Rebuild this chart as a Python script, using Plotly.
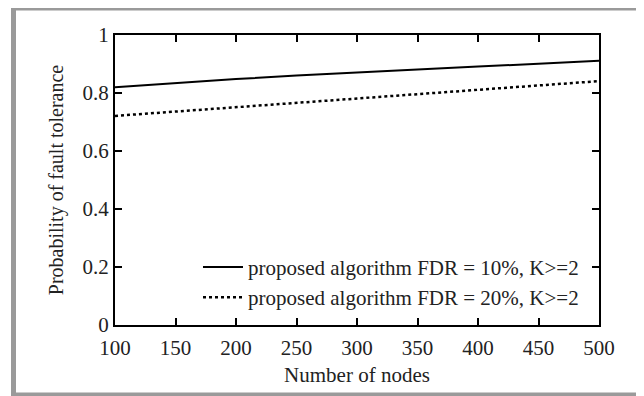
import plotly.graph_objects as go

nodes = [100, 150, 200, 250, 300, 350, 400, 450, 500]
fdr10 = [0.820, 0.835, 0.848, 0.860, 0.871, 0.881, 0.891, 0.901, 0.911]
fdr20 = [0.721, 0.736, 0.751, 0.766, 0.781, 0.796, 0.811, 0.826, 0.841]
names = ["proposed algorithm FDR = 10%, K>=2", "proposed algorithm FDR = 20%, K>=2"]
x_ticks = [100, 150, 200, 250, 300, 350, 400, 450, 500]
y_ticks = [0, 0.2, 0.4, 0.6, 0.8, 1]
y_labels = ["0", "0.2", "0.4", "0.6", "0.8", "1"]

font = "Liberation Serif"
txt = "#222"

# figure is placed by the page at (8, 8); sizes compensate for that offset
W, H = 636, 388
L, R, T, B = 107, 45, 27, 71
PW, PH = W - L - R, H - T - B

fig = go.Figure()
fig.add_trace(go.Scatter(x=nodes, y=fdr10, mode="lines", name=names[0],
                         line=dict(color="black", width=2, dash="solid")))
fig.add_trace(go.Scatter(x=nodes, y=fdr20, mode="lines", name=names[1],
                         line=dict(color="black", width=2.5, dash="dot")))

axis_common = dict(showline=True, linecolor="black", linewidth=2, mirror="ticks",
                   ticks="inside", ticklen=7, tickwidth=1.5, tickcolor="black",
                   showgrid=False, zeroline=False,
                   tickfont=dict(family=font, size=21, color=txt))

fig.update_xaxes(range=[100, 500], tickvals=x_ticks, ticklabelstandoff=3,
                 title=dict(text="Number of nodes", font=dict(family=font, size=21, color=txt), standoff=8),
                 **axis_common)
fig.update_yaxes(range=[0, 1], tickvals=y_ticks, ticktext=y_labels,
                 title=dict(text="Probability of fault tolerance", font=dict(family=font, size=20, color=txt), standoff=14),
                 **axis_common)

fig.update_layout(
    width=W, height=H,
    margin=dict(l=L, r=R, t=T, b=B),
    paper_bgcolor="white", plot_bgcolor="white",
    showlegend=True,
    legend=dict(x=0.969, y=0.025, xanchor="right", yanchor="bottom",
                bgcolor="rgba(0,0,0,0)", font=dict(family=font, size=21, color=txt),
                tracegroupgap=0, itemwidth=40),
    shapes=[dict(type="rect", xref="paper", yref="paper",
                 x0=(5.5 - L) / PW, x1=(635 - L) / PW,
                 y0=(H - B - 387) / PH, y1=(H - B - 0) / PH,
                 line=dict(color="#9a9a9a", width=5), fillcolor="rgba(0,0,0,0)", layer="below")],
)

fig.write_html("out.html")
